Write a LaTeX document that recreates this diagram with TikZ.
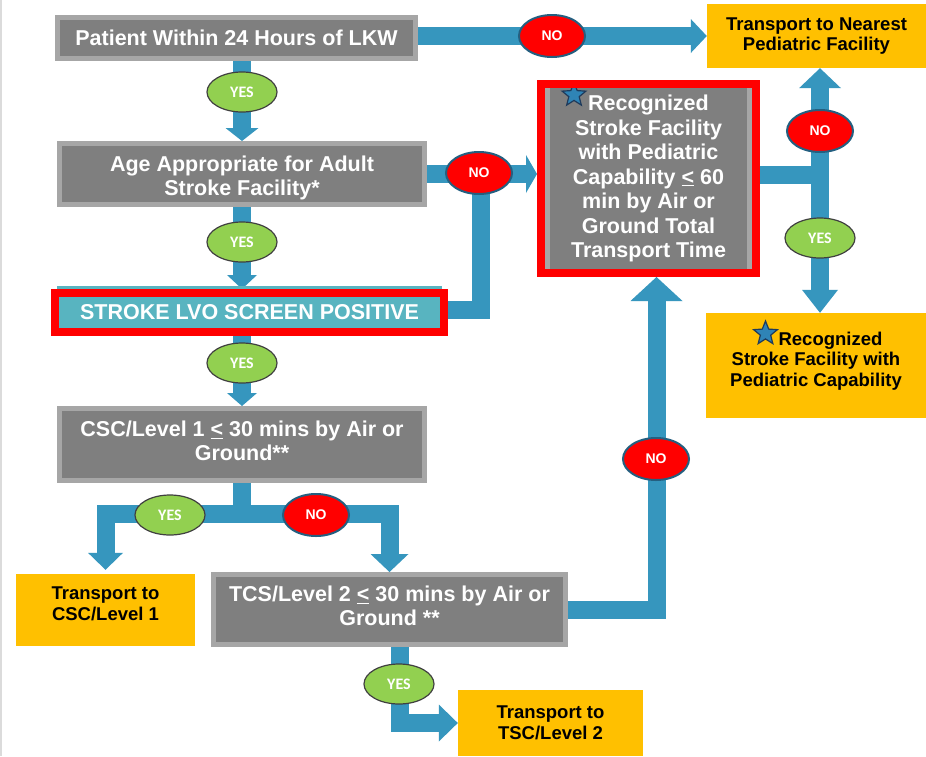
\documentclass[tikz,border=0pt]{standalone}
\usepackage{fontspec}
\setmainfont{Liberation Sans}
\newfontfamily\labelfont{Carlito}
\usetikzlibrary{arrows.meta,shapes.geometric,calc}

\definecolor{flowblue}{HTML}{3696BE}
\definecolor{boxgrey}{HTML}{7F7F7F}
\definecolor{boxedge}{HTML}{A6A6A6}
\definecolor{screenteal}{HTML}{58B4C0}
\definecolor{alertred}{HTML}{FF0000}
\definecolor{destorange}{HTML}{FFC000}
\definecolor{yesgreen}{HTML}{92D050}
\definecolor{noedge}{HTML}{245F80}
\definecolor{starblue}{HTML}{2F84B6}
\definecolor{starnavy}{HTML}{1F3B5C}

\pgfdeclarelayer{back}
\pgfsetlayers{back,main}

\begin{document}
\begin{tikzpicture}[x=1pt,y=-1pt,
  decision/.style={draw=boxedge, fill=boxgrey, line width=5pt, text=white,
    align=center, inner sep=0pt, font=\fontsize{21.5pt}{24pt}\selectfont\bfseries},
  decisiontext/.style={text=white, align=center, inner sep=0pt,
    font=\fontsize{21.5pt}{24pt}\selectfont\bfseries},
  twoline/.style={execute at begin node=\strut, execute at end node=\strut},
  screenbox/.style={draw=alertred, fill=screenteal, line width=8pt, text=white,
    align=center, inner sep=0pt, font=\fontsize{21.5pt}{24pt}\selectfont\bfseries},
  recogbox/.style={draw=alertred, fill=boxgrey, line width=8pt, text=white,
    align=center, inner sep=0pt, font=\fontsize{21.5pt}{24.5pt}\selectfont\bfseries},
  dest/.style={fill=destorange, text=black, align=center, inner sep=0pt,
    font=\fontsize{18.5pt}{20.5pt}\selectfont\bfseries},
  desttext/.style={text=black, align=center, inner sep=0pt,
    font=\fontsize{18.5pt}{20.5pt}\selectfont\bfseries},
  yeslab/.style={ellipse, draw=black!75, line width=1.2pt, fill=yesgreen, text=white,
    minimum width=70pt, minimum height=40pt, inner sep=0pt,
    font=\labelfont\fontsize{16pt}{16pt}\selectfont\bfseries},
  nolab/.style={ellipse, draw=noedge, line width=2pt, fill=alertred, text=white,
    minimum width=66pt, minimum height=42pt, inner sep=0pt,
    font=\fontsize{14pt}{15pt}\selectfont\bfseries},
  starmark/.style={star, star points=5, star point ratio=2.3, fill=starblue,
    draw=starnavy, line width=1.2pt, minimum size=25pt, inner sep=0pt},
  flow/.style={draw=flowblue, line width=18pt},
  flowhead/.style 2 args={-{Triangle[width=#1, length=#2, line width=0pt]}}
]
\useasboundingbox (0,0) rectangle (926,756);
\begin{pgfonlayer}{back}
  \fill[white] (0,0) rectangle (926,756);
  \draw[black!14, line width=2pt] (1,0) -- (1,756);
\end{pgfonlayer}

% decision boxes
\node[decision, minimum width=358pt, minimum height=41pt] (start) at (236.5,38)
  {Patient Within 24 Hours of LKW};
\node[decision, minimum width=365pt, minimum height=61pt,
  label={[decisiontext, twoline, yshift=-5pt]center:{Age Appropriate for Adult\\Stroke Facility*}}]
  (age) at (242,174) {};
\node[screenbox, minimum width=389pt, minimum height=39pt] (lvo) at (249.5,312.5)
  {STROKE LVO SCREEN POSITIVE};
\fill[screenteal] ([shift={(6,-3)}]lvo.north west) rectangle ([shift={(-6,0)}]lvo.north east);
\node[decision, twoline, minimum width=365pt, minimum height=72pt] (csc) at (242,444.5)
  {CSC/Level 1 \underline{<} 30 mins by Air or\\Ground**};
\node[decision, twoline, minimum width=352pt, minimum height=70pt] (tcs) at (389.5,609.5)
  {TCS/Level 2 \underline{<} 30 mins by Air or\\Ground **};

% pediatric capability check
\node[recogbox, minimum width=215pt, minimum height=189pt] (recf) at (648.5,178.5)
  {Recognized\\Stroke Facility\\with Pediatric\\Capability \underline{<} 60\\min by Air or\\Ground Total\\Transport Time};
\fill[boxedge] ([shift={(8,8)}]recf.north west) rectangle ([shift={(13,-8)}]recf.south west);
\fill[boxedge] ([shift={(-13,8)}]recf.north east) rectangle ([shift={(-8,-8)}]recf.south east);
\begin{scope}
  \clip ([shift={(8,8)}]recf.north west) rectangle ([shift={(-8,-8)}]recf.south east);
  \node[starmark] (star1) at (574,95) {};
\end{scope}

% destinations
\node[dest, minimum width=219pt, minimum height=64pt] (nearest) at (816.5,36)
  {Transport to Nearest\\Pediatric Facility};
\node[dest, minimum width=220pt, minimum height=105pt,
  label={[desttext, yshift=4.5pt]center:{\hspace*{29pt}Recognized\\Stroke Facility with\\Pediatric Capability}}]
  (ped) at (816,365.5) {};
\node[starmark] (star2) at (765.5,333.5) {};
\node[dest, minimum width=179pt, minimum height=72pt,
  label={[desttext, yshift=6pt]center:{Transport to\\CSC/Level 1}}]
  (tcsc) at (105.5,610) {};
\node[dest, minimum width=185pt, minimum height=66pt] (tsc) at (550.5,723)
  {Transport to\\TSC/Level 2};

% junction points
\coordinate (j1) at (481,174);
\coordinate (j2) at (820,175);
\coordinate (j3) at (242,514);

% answer labels
\node[yeslab] (y1) at (242,92) {YES};
\node[yeslab] (y2) at (242,242) {YES};
\node[yeslab] (y3) at (242,363) {YES};
\node[nolab] (n1) at (552,36) {NO};
\node[nolab] (n2) at (479,173) {NO};
\node[nolab] (n3) at (820,131) {NO};
\node[yeslab] (y4) at (820,238) {YES};
\node[yeslab] (y5) at (170,515) {YES};
\node[nolab] (n4) at (316,515) {NO};
\node[nolab] (n5) at (656,459) {NO};
\node[yeslab] (y6) at (399,684) {YES};

% connectors
\begin{pgfonlayer}{back}
  \draw[flow, flowhead={33pt}{13pt}] (age.north |- start.south) -- (age.north);
  \draw[flow, flowhead={30pt}{14pt}] (age.south) -- (age.south |- lvo.north);
  \draw[flow, flowhead={30pt}{13pt}] (age.south |- lvo.south) -- (csc.north);
  \draw[flow, flowhead={34pt}{16pt}] (start.east |- nearest.west) -- (nearest.west);
  \draw[flow, flowhead={38pt}{11pt}] (age.east) -- (age.east -| recf.west);
  \draw[flow] ([yshift=3pt]lvo.east) -| (j1);
  \draw[flow] (recf.east |- j2) -- (j2);
  \draw[flow, flowhead={42pt}{20pt}] (j2) -- (j2 |- nearest.south);
  \draw[flow, flowhead={36pt}{23pt}] (j2) -- (j2 |- ped.north);
  \draw[flow] (csc.south) -- (j3);
  \draw[flow, flowhead={35pt}{17pt}] (j3) -| ([yshift=4pt]tcsc.north);
  \draw[flow, flowhead={38pt}{18pt}] (j3) -| (tcs.north);
  \draw[flow, flowhead={52pt}{24pt}] (tcs.east) -| ([xshift=8pt]recf.south);
  \draw[flow, flowhead={37pt}{19pt}] ([xshift=10pt]tcs.south) |- (tsc.west);
\end{pgfonlayer}
\end{tikzpicture}
\end{document}
